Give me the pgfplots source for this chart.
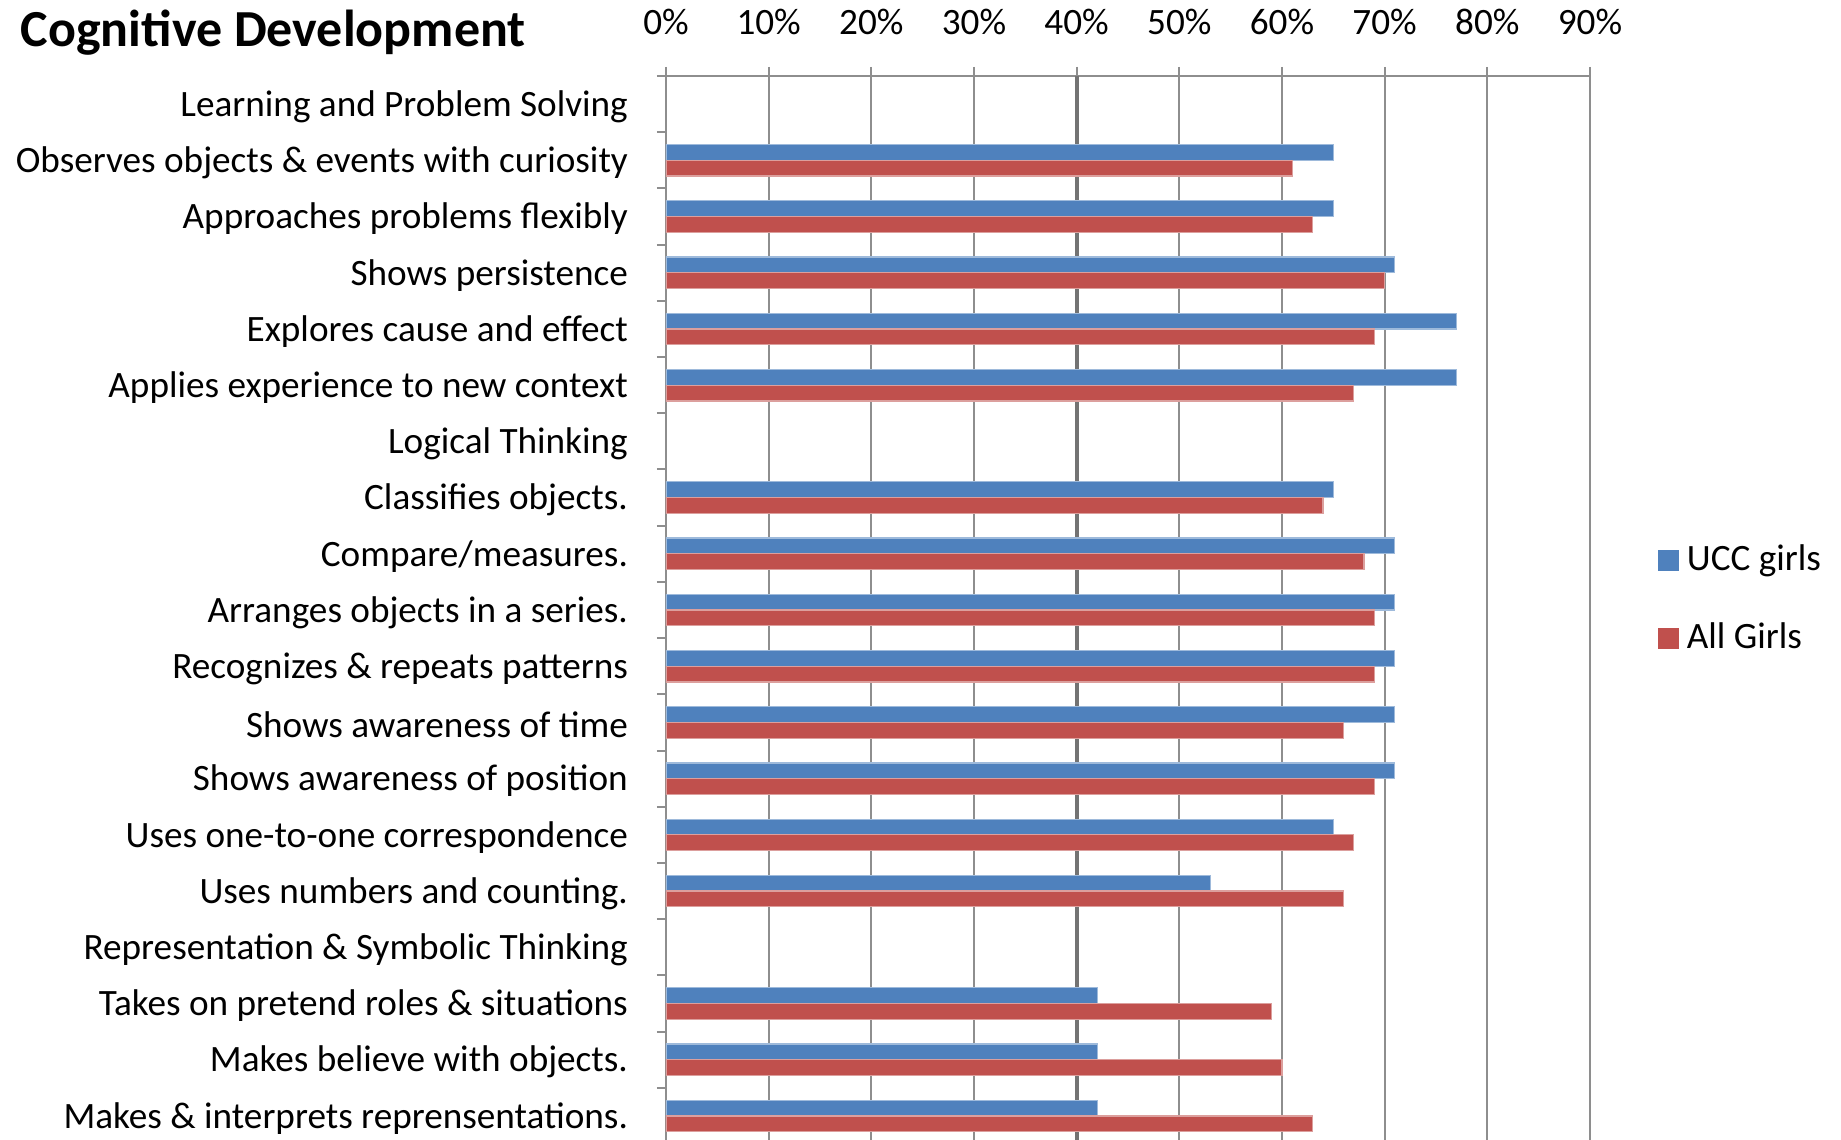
\documentclass[border=0pt]{standalone}
\usepackage{fontspec}
\setmainfont{Carlito}
\usepackage{pgfplots}
\pgfplotsset{compat=1.18}
\definecolor{uccblue}{HTML}{4F81BD}
\definecolor{allred}{HTML}{C0504D}
\definecolor{gridgray}{HTML}{8E8E8E}
\begin{document}
\begin{tikzpicture}
\begin{axis}[
  scale only axis,
  width=231pt, height=267pt,
  xbar, bar width=0.28,
  xmin=0, xmax=90,
  ymin=-0.5, ymax=18.5,
  axis x line*=top,
  axis y line*=left,
  axis line style={gridgray, line width=0.5pt},
  tick style={gridgray, line width=0.5pt},
  tick align=outside,
  major tick length=2.25pt,
  xtick={0,10,...,90},
  xticklabels={0\%,10\%,20\%,30\%,40\%,50\%,60\%,70\%,80\%,90\%},
  xticklabel style={font=\fontsize{9.3}{11}\selectfont, anchor=base, yshift=8pt},
  xmajorgrids,
  grid style={gridgray, line width=0.5pt},
  extra x ticks={40},
  extra x tick labels={},
  extra x tick style={grid style={black!55, line width=1pt}},
  ytick={-0.5,0.5,...,18.5},
  yticklabels={},
  extra y ticks={18,17,...,0},
  extra y tick labels={
    Learning and Problem Solving,
    Observes objects \& events with curiosity,
    Approaches problems flexibly,
    Shows persistence,
    Explores cause and effect,
    Applies experience to new context,
    Logical Thinking,
    Classifies objects.,
    Compare/measures.,
    Arranges objects in a series.,
    Recognizes \& repeats patterns,
    Shows awareness of time,
    Shows awareness of position,
    Uses one-to-one correspondence,
    Uses numbers and counting.,
    Representation \& Symbolic Thinking,
    Takes on pretend roles \& situations,
    Makes believe with objects.,
    Makes \& interprets reprensentations.},
  extra y tick style={major tick length=0pt, ymajorgrids=false},
  yticklabel style={font=\fontsize{9.3}{11}\selectfont, anchor=east, xshift=-6pt, yshift=-0.6pt},
  legend style={at={(rel axis cs:1.0725,0.51)}, anchor=west, draw=none,
    font=\fontsize{9.3}{11}\selectfont, inner xsep=0pt, row sep=7.5pt},
  legend cell align=left,
]
% UCC girls
\addplot[fill=uccblue, draw=uccblue!55!white, line width=0.3pt, bar shift=0.14,
  legend image code/.code={\fill[uccblue] (0pt,-2.5pt) rectangle (5pt,2.5pt);}]
coordinates {
  (65,17) (65,16) (71,15) (77,14) (77,13)
  (65,11) (71,10) (71,9) (71,8) (71,7) (71,6) (65,5) (53,4)
  (42,2) (42,1) (42,0)
};
% All Girls
\addplot[fill=allred, draw=allred!55!white, line width=0.3pt, bar shift=-0.14,
  legend image code/.code={\fill[allred] (0pt,-2.5pt) rectangle (5pt,2.5pt);}]
coordinates {
  (61,17) (63,16) (70,15) (69,14) (67,13)
  (64,11) (68,10) (69,9) (69,8) (66,7) (69,6) (67,5) (66,4)
  (59,2) (60,1) (63,0)
};
\legend{UCC girls, All Girls}
\end{axis}
\node[anchor=base west, inner sep=0pt, font=\bfseries\fontsize{13}{15}\selectfont]
  at ([xshift=-161.5pt, yshift=7.3pt]current axis.north west) {Cognitive Development};
\pgfresetboundingbox
\path[use as bounding box] ([xshift=-166.5pt, yshift=19pt]current axis.north west)
  rectangle ([xshift=293.75pt, yshift=-265.75pt]current axis.north west);
\end{tikzpicture}
\end{document}
